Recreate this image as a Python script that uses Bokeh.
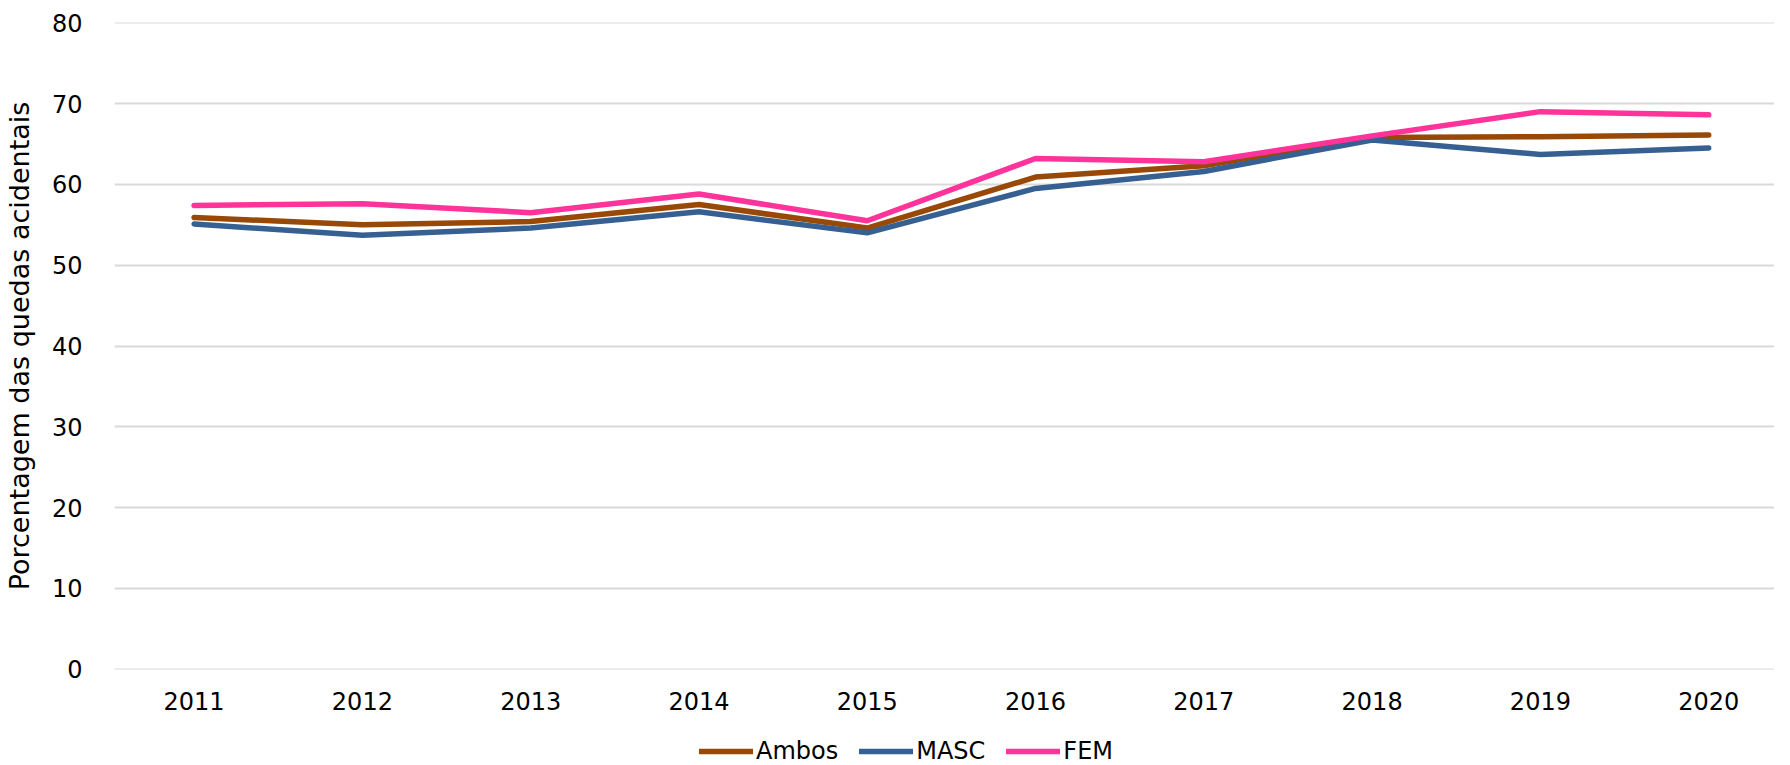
from bokeh.plotting import figure
from bokeh.models import Range1d, FixedTicker, Legend, LegendItem
from bokeh.layouts import column
from bokeh.embed import file_html
from bokeh.resources import INLINE

years = [2011, 2012, 2013, 2014, 2015, 2016, 2017, 2018, 2019, 2020]
ambos = [55.9, 55.0, 55.4, 57.5, 54.6, 60.9, 62.3, 65.8, 65.9, 66.1]
masc = [55.1, 53.7, 54.6, 56.6, 54.0, 59.5, 61.6, 65.5, 63.7, 64.5]
fem = [57.4, 57.6, 56.5, 58.8, 55.5, 63.2, 62.8, 66.0, 69.0, 68.6]
y_ticks = [0, 10, 20, 30, 40, 50, 60, 70, 80]
series_names = ["Ambos", "MASC", "FEM"]
series_colors = ["#984807", "#376092", "#FF3399"]

FONT = "DejaVu Sans"
W = 1774

p = figure(width=W, height=715, output_backend="svg", toolbar_location=None,
           x_range=Range1d(2010.527, 2020.391), y_range=Range1d(-0.03, 80.03),
           min_border_left=106, min_border_top=22, min_border_right=0,
           min_border_bottom=46)
p.outline_line_color = None
p.background_fill_color = "white"

for vals, col in zip([ambos, masc, fem], series_colors):
    p.line(years, vals, line_color=col, line_width=5.5, line_cap="round",
           line_join="round")

# axes
p.xaxis.ticker = FixedTicker(ticks=years)
p.yaxis.ticker = FixedTicker(ticks=y_ticks)
for ax in (p.xaxis[0], p.yaxis[0]):
    ax.axis_line_color = None
    ax.major_tick_line_color = None
    ax.minor_tick_line_color = None
    ax.major_label_text_font = FONT
    ax.major_label_text_font_size = "24px"
    ax.major_label_text_color = "#000000"
p.xaxis.major_label_standoff = 16
p.yaxis.major_label_standoff = 26
p.yaxis.axis_label = "Porcentagem das quedas acidentais"
p.yaxis.axis_label_text_font = FONT
p.yaxis.axis_label_text_font_size = "27px"
p.yaxis.axis_label_text_font_style = "normal"
p.yaxis.axis_label_text_color = "#000000"
p.yaxis.axis_label_standoff = 14

p.xgrid.grid_line_color = None
p.ygrid.grid_line_color = "#d9d9d9"
p.ygrid.grid_line_width = 2

# legend strip below the chart
lg = figure(width=W, height=50, output_backend="svg", toolbar_location=None,
            x_range=Range1d(0, 1), y_range=Range1d(0, 1),
            min_border=0, x_axis_type=None, y_axis_type=None)
lg.outline_line_color = None
lg.xgrid.visible = False
lg.ygrid.visible = False
items = []
for name, vals, col in zip(series_names, [ambos, masc, fem], series_colors):
    r = lg.line(years, vals, line_color=col, line_width=5.5, line_cap="round")
    r.visible = False
    items.append(LegendItem(label=name, renderers=[r]))

legend = Legend(items=items, orientation="horizontal", location=(585, 0),
                glyph_width=54, glyph_height=24, label_standoff=3, spacing=21,
                padding=0, margin=0, border_line_color=None,
                background_fill_alpha=0, click_policy="none",
                label_text_font=FONT, label_text_font_size="24px",
                label_text_color="#000000")
lg.add_layout(legend, "center")

layout = column(p, lg, spacing=0)
open("out.html", "w").write(file_html(layout, INLINE))
